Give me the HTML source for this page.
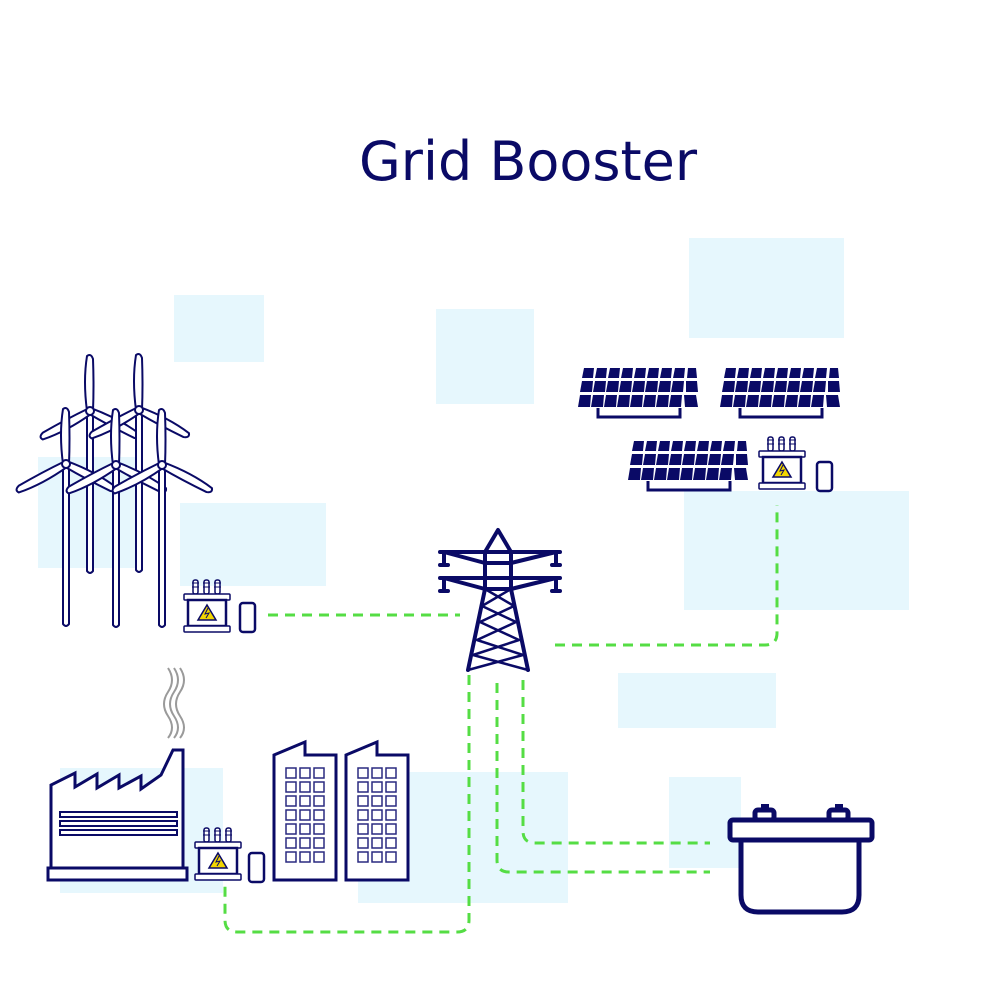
<!DOCTYPE html>
<html><head><meta charset="utf-8"><style>html,body{margin:0;padding:0;background:#fff}svg{display:block}</style></head>
<body>
<svg width="1000" height="1000" viewBox="0 0 1000 1000" xmlns="http://www.w3.org/2000/svg">
<defs>
<g id="tr">
<g fill="#fff" stroke="#0a0a66" stroke-width="1.5">
<rect x="10" y="0" width="5" height="14" rx="2"/><rect x="21" y="0" width="5" height="14" rx="2"/><rect x="32" y="0" width="5" height="14" rx="2"/>
<rect x="1" y="14" width="46" height="6" rx="1"/>
<rect x="5" y="20" width="38" height="26" stroke-width="2.5"/>
<rect x="1" y="46" width="46" height="6" rx="1"/>
</g>
<g stroke="#0a0a66" stroke-width="1"><line x1="9" y1="3" x2="16" y2="3"/><line x1="9" y1="7" x2="16" y2="7"/><line x1="20" y1="3" x2="27" y2="3"/><line x1="20" y1="7" x2="27" y2="7"/><line x1="31" y1="3" x2="38" y2="3"/><line x1="31" y1="7" x2="38" y2="7"/></g>
<polygon points="24,25 33,40 15,40" fill="#f2d600" stroke="#0a0a66" stroke-width="1.5"/>
<path d="M25,28 L22,34 L26,33 L23,38" fill="none" stroke="#0a0a66" stroke-width="1"/>
</g>
<g id="bt"><rect x="0" y="3" width="15" height="29" rx="3" fill="#fff" stroke="#0a0a66" stroke-width="2.5"/></g>
<g id="turb" stroke="#0a0a66" stroke-width="2" fill="#fff" stroke-linejoin="round">
<path d="M-3,0 L-3,160 Q0,164 3,160 L3,0 Z"/>
<path d="M-3,0 Q-7,-30 -3,-55 Q1,-58 3,-52 Q4,-25 3,0 Z"/>
<path d="M-3,0 Q-7,-30 -3,-55 Q1,-58 3,-52 Q4,-25 3,0 Z" transform="rotate(118)"/>
<path d="M-3,0 Q-7,-30 -3,-55 Q1,-58 3,-52 Q4,-25 3,0 Z" transform="rotate(242)"/>
<circle r="4"/>
</g>
</defs>

<g fill="#e6f7fd">
<rect x="174" y="295" width="90" height="67"/>
<rect x="436" y="309" width="98" height="95"/>
<rect x="689" y="238" width="155" height="100"/>
<rect x="38" y="457" width="100" height="111"/>
<rect x="180" y="503" width="146" height="83"/>
<rect x="684" y="491" width="225" height="119"/>
<rect x="618" y="673" width="158" height="55"/>
<rect x="669" y="777" width="72" height="91"/>
<rect x="358" y="772" width="210" height="131"/>
<rect x="60" y="768" width="163" height="125"/>
</g>

<text x="359" y="180" textLength="338" lengthAdjust="spacingAndGlyphs" font-family="'DejaVu Sans','Liberation Sans',sans-serif" font-size="54" fill="#0a0a66">Grid Booster</text>

<g fill="none" stroke="#55dd44" stroke-width="3" stroke-dasharray="10,7">
<path d="M268,615 L460,615"/>
<path d="M555,645 L765,645 Q777,645 777,633 L777,505"/>
<path d="M469,675 L469,920 Q469,932 457,932 L237,932 Q225,932 225,920 L225,885"/>
<path d="M497,683 L497,860 Q497,872 509,872 L710,872"/>
<path d="M523,680 L523,831 Q523,843 535,843 L710,843"/>
</g>

<use href="#turb" x="90" y="411"/>
<use href="#turb" x="139" y="410"/>
<use href="#turb" x="66" y="464"/>
<use href="#turb" x="116" y="465"/>
<use href="#turb" x="162" y="465"/>

<use href="#tr" x="183" y="580"/>
<use href="#bt" x="240" y="600"/>
<use href="#tr" x="758" y="437"/>
<use href="#bt" x="817" y="459"/>
<use href="#tr" x="194" y="828"/>
<use href="#bt" x="249" y="850"/>

<g fill="#0a0a66">
<g id="sp">
<path d="M584,368h10l-1,10h-11z M597,368h10l-1,10h-11z M610,368h10l-1,10h-11z M623,368h10l-1,10h-11z M636,368h10l-1,10h-11z M649,368h10l-1,10h-11z M662,368h10l-1,10h-11z M675,368h10l-1,10h-11z M688,368h8l1,10h-10z"/>
<path d="M582,381h11l-1,11h-12z M595,381h11l-1,11h-12z M608,381h11l-1,11h-12z M621,381h11l-1,11h-12z M634,381h11l-1,11h-12z M647,381h11l-1,11h-12z M660,381h11l-1,11h-12z M673,381h11l-1,11h-12z M686,381h11l1,11h-12z"/>
<path d="M580,395h11l-1,12h-12z M593,395h11l-1,12h-12z M606,395h11l-1,12h-12z M619,395h11l-1,12h-12z M632,395h11l-1,12h-12z M645,395h11l-1,12h-12z M658,395h11l-1,12h-12z M671,395h11l-1,12h-12z M684,395h12l2,12h-13z"/>
<path d="M598,408v9h82v-9" fill="none" stroke="#0a0a66" stroke-width="3"/>
</g>
<use href="#sp" x="142" y="0"/>
<use href="#sp" x="50" y="73"/>
</g>

<g stroke="#0a0a66" stroke-width="4" fill="none" stroke-linecap="round" stroke-linejoin="round">
<path d="M485,552 L498,530 L511,552"/>
<line x1="440" y1="552" x2="560" y2="552"/>
<line x1="440" y1="578" x2="560" y2="578"/>
<path d="M444,552 L485,563 L511,563 L556,552"/>
<path d="M444,578 L485,589 L511,589 L556,578"/>
<path d="M444,552v12 M440,565h8 M556,552v12 M552,565h8 M444,578v12 M440,591h8 M556,578v12 M552,591h8"/>
<path d="M485,552 L485,589 L468,670 M511,552 L511,589 L528,670"/>
<path d="M485,589 L514,606 L480,622 L519,640 L473,655 L528,670 M511,589 L482,606 L516,622 L477,640 L523,655 L468,670" stroke-width="2.5"/>
</g>

<g stroke="#0a0a66" stroke-width="5" fill="#fff" stroke-linejoin="round">
<path d="M741,840 L741,895 Q741,912 758,912 L842,912 Q859,912 859,895 L859,840"/>
<rect x="730" y="820" width="142" height="20" rx="3"/>
<rect x="755" y="810" width="19" height="10" rx="3"/>
<rect x="829" y="810" width="19" height="10" rx="3"/>
</g>
<rect x="761" y="804" width="8" height="6" fill="#0a0a66"/>
<rect x="835" y="804" width="8" height="6" fill="#0a0a66"/>

<g fill="none" stroke="#9a9a9a" stroke-width="2">
<path d="M168,668 q8,12 0,24 q-8,12 0,24 q8,12 0,22"/>
<path d="M174,668 q8,12 0,24 q-8,12 0,24 q8,12 0,22"/>
<path d="M180,668 q8,12 0,24 q-8,12 0,24 q8,12 0,22"/>
</g>

<g stroke="#0a0a66" stroke-width="3" fill="#fff" stroke-linejoin="miter">
<path d="M51,868 L51,785 L75,773 L75,787 L97,774 L97,788 L119,775 L119,788 L141,776 L141,789 L161,775 L173,750 L183,750 L183,868"/>
<rect x="48" y="868" width="139" height="12"/>
<rect x="60" y="812" width="117" height="5" stroke-width="2"/>
<rect x="60" y="821" width="117" height="5" stroke-width="2"/>
<rect x="60" y="830" width="117" height="5" stroke-width="2"/>
</g>

<g stroke="#0a0a66" stroke-width="3" fill="#fff">
<g id="bld">
<path d="M274,880 L274,755 L305,742 L305,755 L336,755 L336,880 Z"/>
<g stroke-width="1.5" stroke="#2a2a80">
<path d="M286,768h10v10h-10z M300,768h10v10h-10z M314,768h10v10h-10z M286,782h10v10h-10z M300,782h10v10h-10z M314,782h10v10h-10z M286,796h10v10h-10z M300,796h10v10h-10z M314,796h10v10h-10z M286,810h10v10h-10z M300,810h10v10h-10z M314,810h10v10h-10z M286,824h10v10h-10z M300,824h10v10h-10z M314,824h10v10h-10z M286,838h10v10h-10z M300,838h10v10h-10z M314,838h10v10h-10z M286,852h10v10h-10z M300,852h10v10h-10z M314,852h10v10h-10z"/>
</g>
</g>
<use href="#bld" x="72" y="0"/>
</g>
</svg>
</body></html>
